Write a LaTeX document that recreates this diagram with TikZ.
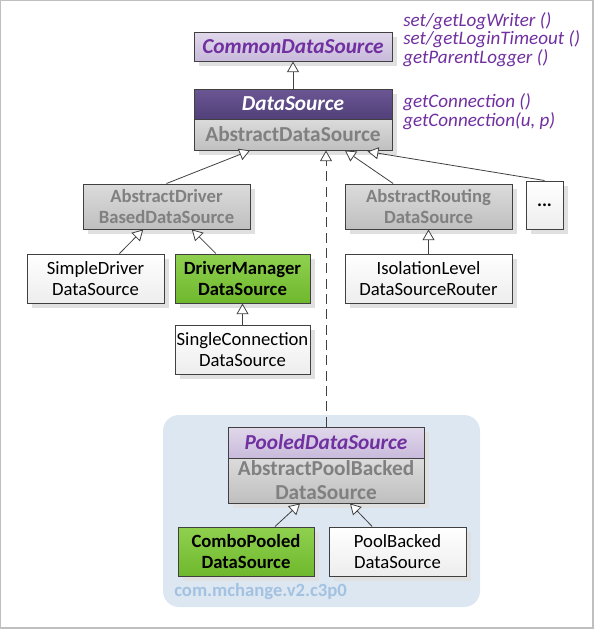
\documentclass[tikz,border=0pt]{standalone}
\usepackage{fontspec}
\setmainfont{Carlito}
\usetikzlibrary{arrows.meta,shadows}

\definecolor{lilac}{HTML}{7030A0}
\definecolor{edgegrey}{HTML}{404040}
\definecolor{textgrey}{HTML}{808080}
\definecolor{pkgblue}{HTML}{DDE7F1}
\definecolor{pkgtext}{HTML}{A3C2E2}
\definecolor{greentop}{HTML}{8FD14F}
\definecolor{greenbot}{HTML}{6FB82D}
\definecolor{lilactop}{HTML}{E1D8EB}
\definecolor{lilacbot}{HTML}{C8BADB}
\definecolor{darktop}{HTML}{6B5693}
\definecolor{darkbot}{HTML}{51407A}

\tikzset{
  box/.style={draw=edgegrey, line width=0.75pt, inner sep=0pt, align=center,
    font=\fontsize{14}{16}\selectfont,
    drop shadow={shadow xshift=3.5pt, shadow yshift=-3.5pt, fill=black!12, opacity=1}},
  whitebox/.style={box, top color=white, bottom color=black!7},
  greenbox/.style={box, top color=greentop, bottom color=greenbot, font=\fontsize{14}{16}\selectfont\bfseries},
  greybox/.style={box, top color=black!14, bottom color=black!25, text=textgrey, font=\fontsize{14}{16}\selectfont\bfseries},
  lilacbox/.style={box, top color=lilactop, bottom color=lilacbot, text=lilac, font=\fontsize{16}{18}\selectfont\bfseries\itshape},
  darkbox/.style={box, top color=darktop, bottom color=darkbot, text=white, font=\fontsize{16}{18}\selectfont\bfseries\itshape},
  methods/.style={align=left, text=lilac, inner sep=0pt, anchor=west, font=\fontsize{14.3}{14}\selectfont\itshape},
  inherit/.style={-{Triangle[open, length=8pt, width=9pt, fill=white]}, edgegrey, line width=0.6pt},
  realize/.style={inherit, dash pattern=on 7.5pt off 4pt}
}

\begin{document}
\begin{tikzpicture}[x=0.75pt, y=-0.75pt]
\useasboundingbox (0,0) rectangle (595,629);
\draw[black!25, line width=1.5pt] (0,0) rectangle (593,628);

\fill[pkgblue, rounded corners=12pt] (163,415) rectangle (480,607);
\node[anchor=west, text=pkgtext, inner sep=0pt, font=\fontsize{14}{16}\selectfont\bfseries] (pkg) at (174,592) {com.mchange.v2.c3p0};

\node[lilacbox, minimum width=148.5pt, minimum height=21.75pt] (cds) at (293,46.5) {CommonDataSource};
\node[methods] (cdsm) at (403,39.5) {set/getLogWriter ()\\set/getLoginTimeout ()\\getParentLogger ()};

\node[darkbox, minimum width=148.5pt, minimum height=22.5pt] (ds) at (293,104) {DataSource};
\node[greybox, minimum width=148.5pt, minimum height=23.25pt, font=\fontsize{16}{18}\selectfont\bfseries] (ads) at (293,134.5) {AbstractDataSource};
\node[methods] (dsm) at (403,111.5) {getConnection ()\\getConnection(u, p)};

\node[greybox, minimum width=125.25pt, minimum height=33.75pt] (adb) at (166.5,206.5) {AbstractDriver\\BasedDataSource};
\node[greybox, minimum width=125.25pt, minimum height=33.75pt] (ar) at (428.5,206.5) {AbstractRouting\\DataSource};
\node[whitebox, minimum width=27.75pt, minimum height=36pt, font=\fontsize{14}{16}\selectfont\bfseries] (more) at (544.5,205) {...};

\node[whitebox, minimum width=102.75pt, minimum height=36.75pt] (sd) at (95.5,278.5) {SimpleDriver\\DataSource};
\node[greenbox, minimum width=101.25pt, minimum height=36.75pt] (dm) at (242.5,278.5) {DriverManager\\DataSource};
\node[whitebox, minimum width=101.25pt, minimum height=36.75pt] (sc) at (242.5,349.5) {SingleConnection\\DataSource};
\node[whitebox, minimum width=125.25pt, minimum height=36.75pt] (il) at (428.5,278.5) {IsolationLevel\\DataSourceRouter};

\node[lilacbox, minimum width=147pt, minimum height=23.25pt] (pds) at (326,442.5) {PooledDataSource};
\node[greybox, minimum width=147pt, minimum height=33.75pt, font=\fontsize{16}{18}\selectfont\bfseries] (apb) at (326,480.5) {AbstractPoolBacked\\DataSource};
\node[greenbox, minimum width=102pt, minimum height=36.75pt] (cp) at (246,551.5) {ComboPooled\\DataSource};
\node[whitebox, minimum width=102.75pt, minimum height=36.75pt] (pb) at (397.5,551.5) {PoolBacked\\DataSource};

\draw[inherit] (ds.north) -- (cds.south);
\draw[inherit] (adb.north) -- ([xshift=-32.25pt]ads.south);
\draw[realize] (pds.north) -- (pds.north |- ads.south);
\draw[inherit] ([xshift=-26.5pt]ar.north) -- ([xshift=39pt]ads.south);
\draw[inherit] (more.north) -- ([xshift=56pt, yshift=-0.75pt]ads.south);
\draw[inherit] ([xshift=18pt]sd.north) -- ([xshift=-17.5pt]adb.south);
\draw[inherit] ([xshift=-20pt]dm.north) -- ([xshift=19pt]adb.south);
\draw[inherit] (sc.north) -- (dm.south);
\draw[inherit] (il.north) -- (ar.south);
\draw[inherit] ([xshift=21.75pt]cp.north) -- ([xshift=-19.5pt]apb.south);
\draw[inherit] ([xshift=-19pt]pb.north) -- ([xshift=18pt]apb.south);
\end{tikzpicture}
\end{document}
